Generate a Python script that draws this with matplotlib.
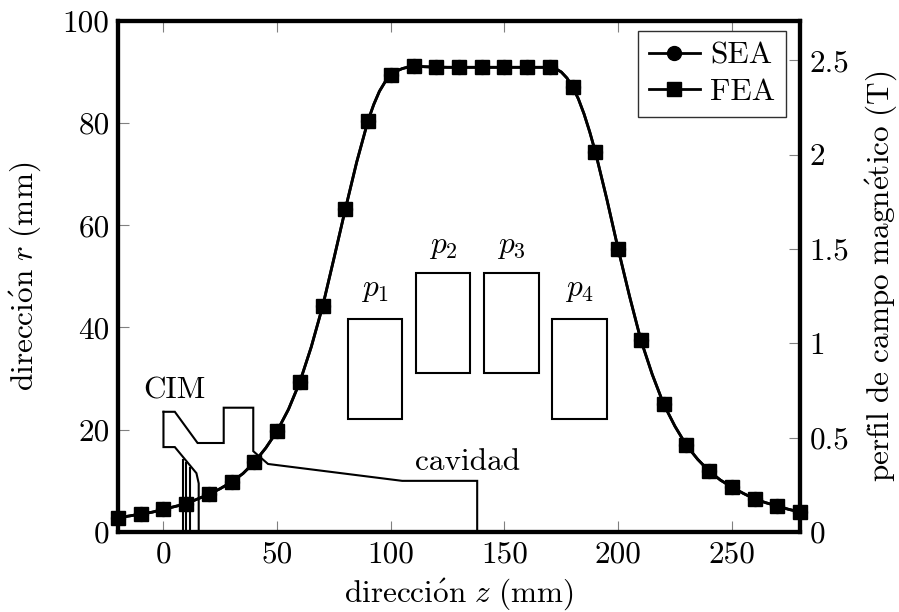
import matplotlib
matplotlib.use('Agg')
import matplotlib.pyplot as plt

plt.rcParams['font.family'] = ['cmr10', 'DejaVu Serif']
plt.rcParams['mathtext.fontset'] = 'cm'
plt.rcParams['axes.formatter.use_mathtext'] = True
plt.rcParams['axes.unicode_minus'] = False

# Field profile, closer steps at the two knees
field_z = [-20, -15, -10, -5, 0, 5, 10, 15, 20, 25, 30, 35, 40, 45, 50, 55, 60, 65, 70, 75,
           80, 85, 90, 92.5, 95, 97.5, 100, 102.5, 105, 107.5, 110, 115, 120, 125, 130, 135, 140, 145, 150, 155, 160, 165,
           170, 172.5, 175, 177.5, 180, 182.5, 185, 187.5, 190, 195, 200, 205, 210, 215, 220, 225, 230, 235, 240, 245, 250, 255, 260, 265, 270, 275, 280]
sea_b = [0.075, 0.085, 0.095, 0.105, 0.12, 0.135, 0.15, 0.175, 0.20, 0.23, 0.265, 0.31, 0.37, 0.445, 0.535, 0.65, 0.795, 0.98, 1.195, 1.45,
         1.71, 1.96, 2.18, 2.265, 2.335, 2.385, 2.42, 2.442, 2.455, 2.463, 2.468, 2.465, 2.463, 2.462, 2.462, 2.462, 2.462, 2.462, 2.462, 2.462, 2.462, 2.462,
         2.462, 2.455, 2.437, 2.405, 2.357, 2.295, 2.215, 2.12, 2.013, 1.765, 1.5, 1.25, 1.017, 0.835, 0.678, 0.56, 0.46, 0.385, 0.323, 0.275, 0.238, 0.205, 0.175, 0.155, 0.138, 0.12, 0.106]
# FEA sits on the SEA curve everywhere in the picture
fea_b = list(sea_b)
# markers only every 10 mm
marker_idx = [i for i, z in enumerate(field_z) if z % 10 == 0]

# Cavity outline (z, r) in mm
upper_z = [0, 5, 15, 26.5, 26.5, 39.5, 39.5, 46, 105, 138, 138]
upper_r = [23.5, 23.5, 17.4, 17.4, 24.3, 24.3, 15.8, 13.3, 10, 10, 0]
lower_z = [0, 0, 5, 14.5, 15.5, 15.5]
lower_r = [23.5, 16.6, 16.6, 11.5, 9.5, 0]
stem_z = [8.7, 10.1, 11.6]
stem_r = [14, 13.4, 12.6]

# Magnets p1..p4
magnet_z = [81, 111, 141, 171]
magnet_r = [22, 31, 31, 22]
magnet_w = 24
magnet_h = 19.7
magnet_names = ['$p_1$', '$p_2$', '$p_3$', '$p_4$']
magnet_label_r = [47.3, 55.8, 55.8, 47.3]

xticks = [0, 50, 100, 150, 200, 250]
yticks = [0, 20, 40, 60, 80, 100]
bticks = [0, 0.5, 1, 1.5, 2, 2.5]
bticklabels = ['0', '0.5', '1', '1.5', '2', '2.5']

fs = 22.5
fig = plt.figure(figsize=(8.99, 6.12), dpi=100)
ax = fig.add_axes([118/899, 1 - 532/612, (800 - 118)/899, (532 - 20.5)/612])

ax.plot(upper_z, upper_r, color='k', lw=1.5, solid_joinstyle='miter')
ax.plot(lower_z, lower_r, color='k', lw=1.5, solid_joinstyle='miter')
for z, r in zip(stem_z, stem_r):
    ax.plot([z, z], [0, r], color='k', lw=1.5)
for z, r in zip(magnet_z, magnet_r):
    ax.add_patch(plt.Rectangle((z, r), magnet_w, magnet_h, fill=False, ec='k', lw=1.5))
for z, r, name in zip(magnet_z, magnet_label_r, magnet_names):
    ax.text(z + magnet_w/2, r, name, fontsize=fs, ha='center', va='center')
ax.text(5, 27.7, 'CIM', fontsize=fs, ha='center', va='center')
ax.text(133.7, 13.7, 'cavidad', fontsize=fs, ha='center', va='center')

ax.set_xlim(-20, 280)
ax.set_ylim(0, 100)
ax.set_xticks(xticks)
ax.set_yticks(yticks)
ax.set_xticklabels([str(v) for v in xticks])
ax.set_yticklabels([str(v) for v in yticks])
ax.tick_params(direction='in', length=8, width=0.8, color='#808080', labelsize=fs, pad=6, top=True)
ax.set_xlabel(r'$\mathrm{direcci\acute{o}n}\ z\ (\mathrm{mm})$', fontsize=fs, labelpad=6)
ax.set_ylabel(r'$\mathrm{direcci\acute{o}n}\ r\ (\mathrm{mm})$', fontsize=fs, labelpad=14)

ax2 = ax.twinx()
ax2.set_ylim(0, 2.71)
l1, = ax2.plot(field_z, sea_b, color='k', lw=2, marker='o', ms=10, markevery=marker_idx, label='SEA', clip_on=False, zorder=5)
l2, = ax2.plot(field_z, fea_b, color='k', lw=2, marker='s', ms=10, markevery=marker_idx, label='FEA', clip_on=False, zorder=6)
ax2.set_yticks(bticks)
ax2.set_yticklabels(bticklabels)
ax2.tick_params(direction='in', length=8, width=0.8, color='#808080', labelsize=fs, pad=7)
ax2.set_ylabel(r'$\mathrm{perfil\ de\ campo\ magn\acute{e}tico}\ (\mathrm{T})$', fontsize=fs, labelpad=10)

for a in (ax, ax2):
    for s in a.spines.values():
        s.set_linewidth(3)
        s.set_capstyle('projecting')

leg = ax2.legend(handles=[l1, l2], loc='upper right', bbox_to_anchor=(786/899, 1 - 31/612), bbox_transform=fig.transFigure,
                 fontsize=fs, fancybox=False, framealpha=1, edgecolor='#303030', borderaxespad=0,
                 handlelength=1.63, handletextpad=0.33, labelspacing=0.25, borderpad=0.35)
leg.get_frame().set_linewidth(1)
leg.set_zorder(10)
ax2.patch.set_visible(False)

plt.savefig('out.png', dpi=100)
